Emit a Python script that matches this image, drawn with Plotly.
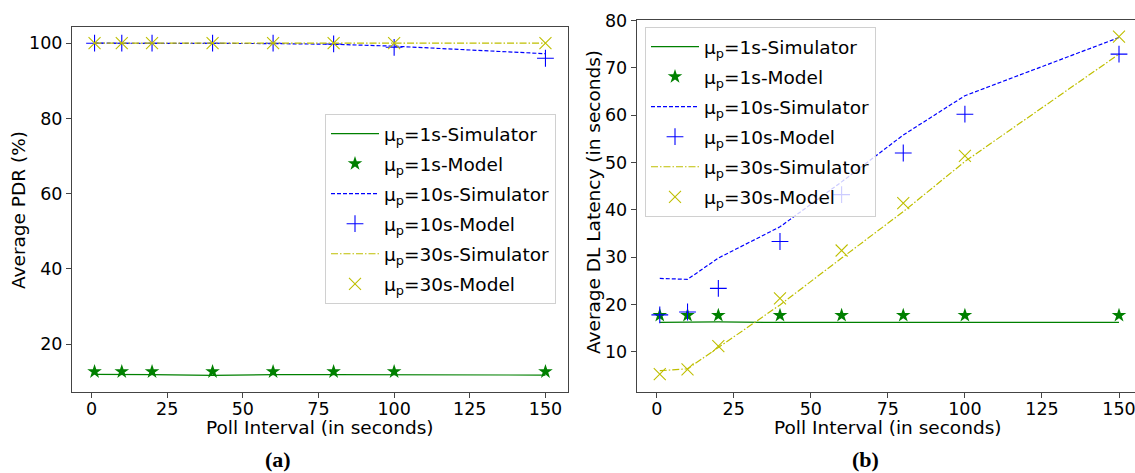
import plotly.graph_objects as go

# ---------------- data ----------------
poll = [1, 10, 20, 40, 60, 80, 100, 150]

# (a) Average PDR (%)
pdr_1s_sim = [12.0, 12.0, 11.9, 11.7, 11.9, 11.9, 11.9, 11.8]
pdr_1s_model = [12.7, 12.7, 12.7, 12.7, 12.7, 12.7, 12.7, 12.7]
pdr_10s_sim = [100.0, 100.0, 100.0, 100.0, 99.9, 99.7, 99.2, 97.2]
pdr_10s_model = [100.0, 100.0, 100.0, 100.0, 100.0, 99.8, 98.9, 96.0]
pdr_30s_sim = [100.0, 100.0, 100.0, 100.0, 100.0, 100.0, 100.0, 100.0]
pdr_30s_model = [100.0, 100.0, 100.0, 100.0, 100.0, 100.0, 100.0, 100.0]

# (b) Average DL latency (s)
lat_1s_sim = [16.2, 16.3, 16.3, 16.2, 16.2, 16.2, 16.1, 16.2]
lat_1s_model = [17.7, 17.7, 17.7, 17.7, 17.7, 17.7, 17.7, 17.7]
lat_10s_sim = [25.5, 25.3, 29.8, 36.4, 45.9, 55.8, 64.1, 76.4]
lat_10s_model = [17.8, 18.4, 23.4, 33.3, 43.2, 52.0, 60.2, 72.9]
lat_30s_sim = [6.0, 6.4, 10.9, 19.9, 29.8, 39.6, 50.2, 72.9]
lat_30s_model = [5.3, 6.3, 11.2, 21.3, 31.4, 41.4, 51.4, 76.6]

labels = ["μ<sub>p</sub>=1s-Simulator", "μ<sub>p</sub>=1s-Model",
          "μ<sub>p</sub>=10s-Simulator", "μ<sub>p</sub>=10s-Model",
          "μ<sub>p</sub>=30s-Simulator", "μ<sub>p</sub>=30s-Model"]
xticks = [0, 25, 50, 75, 100, 125, 150]
pdr_ticks = [20, 40, 60, 80, 100]
lat_ticks = [10, 20, 30, 40, 50, 60, 70, 80]

GREEN = "#008000"
BLUE = "#0000ff"
YELLOW = "#bfbf00"

W, H = 1135, 473
FONT = "DejaVu Sans"
FS_TICK = 17.5
FS = 18.5


def add_set(fig, xa, ya, leg, series):
    sim1, mod1, sim10, mod10, sim30, mod30 = series
    specs = [
        (sim1, "lines", dict(color=GREEN, width=1.2, dash="solid"), None),
        (mod1, "markers", None, dict(symbol="star", size=11, color=GREEN)),
        (sim10, "lines", dict(color=BLUE, width=1.2, dash="4px,2px"), None),
        (mod10, "markers", None, dict(symbol="cross-thin", size=12, color=BLUE,
                                      line=dict(color=BLUE, width=1.1))),
        (sim30, "lines", dict(color=YELLOW, width=1.2, dash="7px,2px,1.5px,2px"), None),
        (mod30, "markers", None, dict(symbol="x-thin", size=12, color=YELLOW,
                                      line=dict(color=YELLOW, width=1.1))),
    ]
    for i, (y, mode, line, marker) in enumerate(specs):
        kw = dict(x=poll, y=y, mode=mode, name=labels[i], xaxis=xa, yaxis=ya,
                  legend=leg, legendgroup=f"{leg}{i}")
        if line:
            kw["line"] = line
        if marker:
            kw["marker"] = marker
        fig.add_trace(go.Scatter(**kw))


fig = go.Figure()
add_set(fig, "x", "y", "legend",
        [pdr_1s_sim, pdr_1s_model, pdr_10s_sim, pdr_10s_model, pdr_30s_sim, pdr_30s_model])
add_set(fig, "x2", "y2", "legend2",
        [lat_1s_sim, lat_1s_model, lat_10s_sim, lat_10s_model, lat_30s_sim, lat_30s_model])

axis_common = dict(showline=True, linecolor="#444", linewidth=1, ticks="outside",
                   ticklen=5, tickcolor="#444", showgrid=False, zeroline=False,
                   automargin=False, ticklabeloverflow="allow",
                   tickfont=dict(family=FONT, size=FS_TICK, color="black"))

legend_common = dict(xanchor="left", yanchor="top",
                     bgcolor="rgba(255,255,255,0.8)", bordercolor="#d0d0d0", borderwidth=1,
                     font=dict(family=FONT, size=FS, color="black"), tracegroupgap=3,
                     itemwidth=48)

fig.update_layout(
    width=W, height=H,
    margin=dict(l=0, r=0, t=0, b=0, autoexpand=False),
    paper_bgcolor="white", plot_bgcolor="white",
    font=dict(family=FONT, size=FS, color="black"),
    xaxis=dict(domain=[72 / W, 568 / W], range=[-6.45, 157.45], tickvals=xticks,
               mirror=True, anchor="y", ticklabelstandoff=-4, **axis_common),
    yaxis=dict(domain=[1 - 392 / H, 1 - 27 / H], range=[7.3, 104.3], tickvals=pdr_ticks,
               mirror=True, anchor="x", **axis_common),
    xaxis2=dict(domain=[636.7 / W, 1.0], range=[-6.49, 155.19], tickvals=xticks,
                mirror=True, anchor="y2", ticklabelstandoff=-4, **axis_common),
    yaxis2=dict(domain=[1 - 392 / H, 1 - 20 / H], range=[1.5, 80.1], tickvals=lat_ticks,
                mirror=False, anchor="x2", **axis_common),
    legend=dict(x=325 / W, y=1 - 114 / H, **legend_common),
    legend2=dict(x=645 / W, y=1 - 27 / H, **legend_common),
    showlegend=True,
)


def px_note(text, x, y, size=FS, family=FONT, angle=0):
    fig.add_annotation(text=text, x=x / W, y=1 - y / H, xref="paper", yref="paper",
                       xanchor="center", yanchor="middle", showarrow=False, textangle=angle,
                       font=dict(family=family, size=size, color="black"))


# axis titles
px_note("Poll Interval (in seconds)", 320, 427)
px_note("Poll Interval (in seconds)", 888, 427)
px_note("Average PDR (%)", 19, 210, angle=-90)
px_note("Average DL Latency (in seconds)", 594, 202, angle=-90)
# panel labels
px_note("<b>(a)</b>", 278, 459, size=22, family="Liberation Serif")
px_note("<b>(b)</b>", 865, 459, size=22, family="Liberation Serif")

fig.write_html("out.html", config={"displayModeBar": False},
               post_script="document.body.style.margin='0';")
